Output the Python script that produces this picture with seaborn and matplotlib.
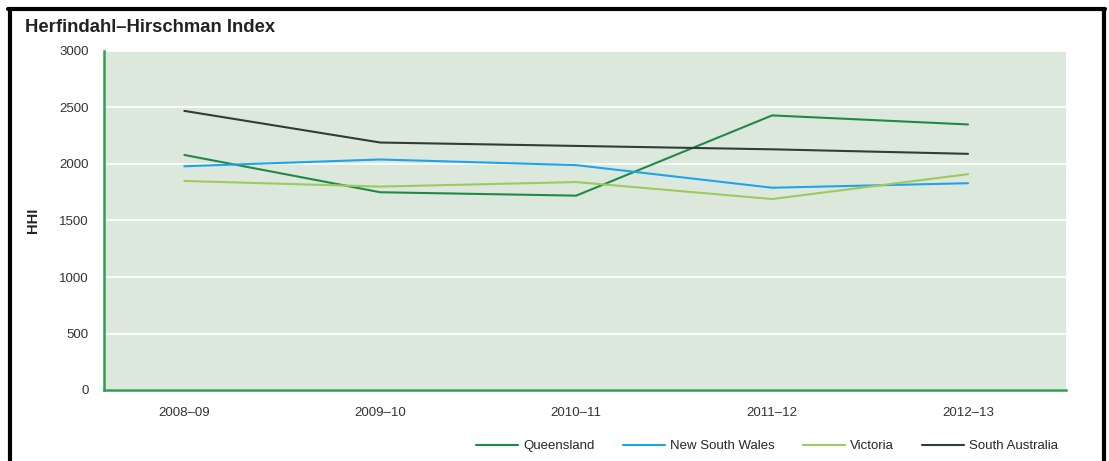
import numpy as np
import pandas as pd
import seaborn as sns
import matplotlib.pyplot as plt
from matplotlib.lines import Line2D

# data
years = ['2008–09', '2009–10', '2010–11', '2011–12', '2012–13']
queensland = [2080, 1750, 1720, 2430, 2350]
new_south_wales = [1980, 2040, 1990, 1790, 1830]
victoria = [1850, 1800, 1840, 1690, 1910]
south_australia = [2470, 2190, 2160, 2130, 2090]

series_names = ['Queensland', 'New South Wales', 'Victoria', 'South Australia']
colours = ['#1f8a45', '#1ea3ec', '#9cca5e', '#2c3e38']

df = pd.DataFrame({'Year': years, 'Queensland': queensland,
                   'New South Wales': new_south_wales, 'Victoria': victoria,
                   'South Australia': south_australia})
long = df.melt(id_vars='Year', var_name='State', value_name='HHI')
long['pos'] = long['Year'].map({y: i for i, y in enumerate(years)})

sns.set_style('white')
plt.rcParams['font.family'] = ['Liberation Sans', 'DejaVu Sans']

fig = plt.figure(figsize=(11.09, 4.61), dpi=100)
ax = fig.add_axes([104 / 1109, 1 - 390 / 461, (1066 - 104) / 1109, (390 - 51) / 461])
ax.set_facecolor('#dde8dc')

sns.lineplot(data=long, x='pos', y='HHI', hue='State', hue_order=series_names,
             palette=colours, linewidth=1.5, ax=ax, legend=False)

ax.set_ylim(0, 3000)
ax.set_xlim(-0.41, 4.5)
ax.set_yticks(np.arange(0, 3001, 500))
ax.set_xticks(range(len(years)))
ax.set_xticklabels(years)
ax.grid(axis='y', color='white', linewidth=1.2)
ax.set_axisbelow(True)
ax.tick_params(axis='both', length=0, labelsize=9.5, colors='#333333')
ax.tick_params(axis='x', pad=12)
ax.tick_params(axis='y', pad=11)
ax.set_xlabel('')
ax.set_ylabel('HHI', fontsize=10.5, fontweight='bold', color='#222222')
ax.yaxis.set_label_coords(-(104 - 40) / 962, 0.5)
for s in ['top', 'right']:
    ax.spines[s].set_visible(False)
for s in ['left', 'bottom']:
    ax.spines[s].set_color('#2ea04f')
    ax.spines[s].set_linewidth(1.8)

fig.text(25 / 1109, 1 - 27 / 461, 'Herfindahl–Hirschman Index', fontsize=13.3,
         fontweight='bold', color='#222222', va='center')

handles = [Line2D([], [], color=c, linewidth=1.5) for c in colours]
fig.legend(handles, series_names, loc='center right', ncol=4, frameon=False,
           bbox_to_anchor=(1070 / 1109, 1 - 446 / 461), fontsize=9.5,
           handlelength=3.2, columnspacing=2.1, handletextpad=0.4)

# black frame around the figure
fl = dict(color='black', linewidth=3, transform=fig.transFigure)
fig.add_artist(Line2D([9.5 / 1109, 9.5 / 1109], [0, 1 - 9.5 / 461], **fl))
fig.add_artist(Line2D([8 / 1109, 1105 / 1109], [1 - 9.5 / 461, 1 - 9.5 / 461], **fl))
fig.add_artist(Line2D([1104 / 1109, 1104 / 1109], [0, 1 - 9.5 / 461], **fl))

fig.savefig('out.png', dpi=100)
